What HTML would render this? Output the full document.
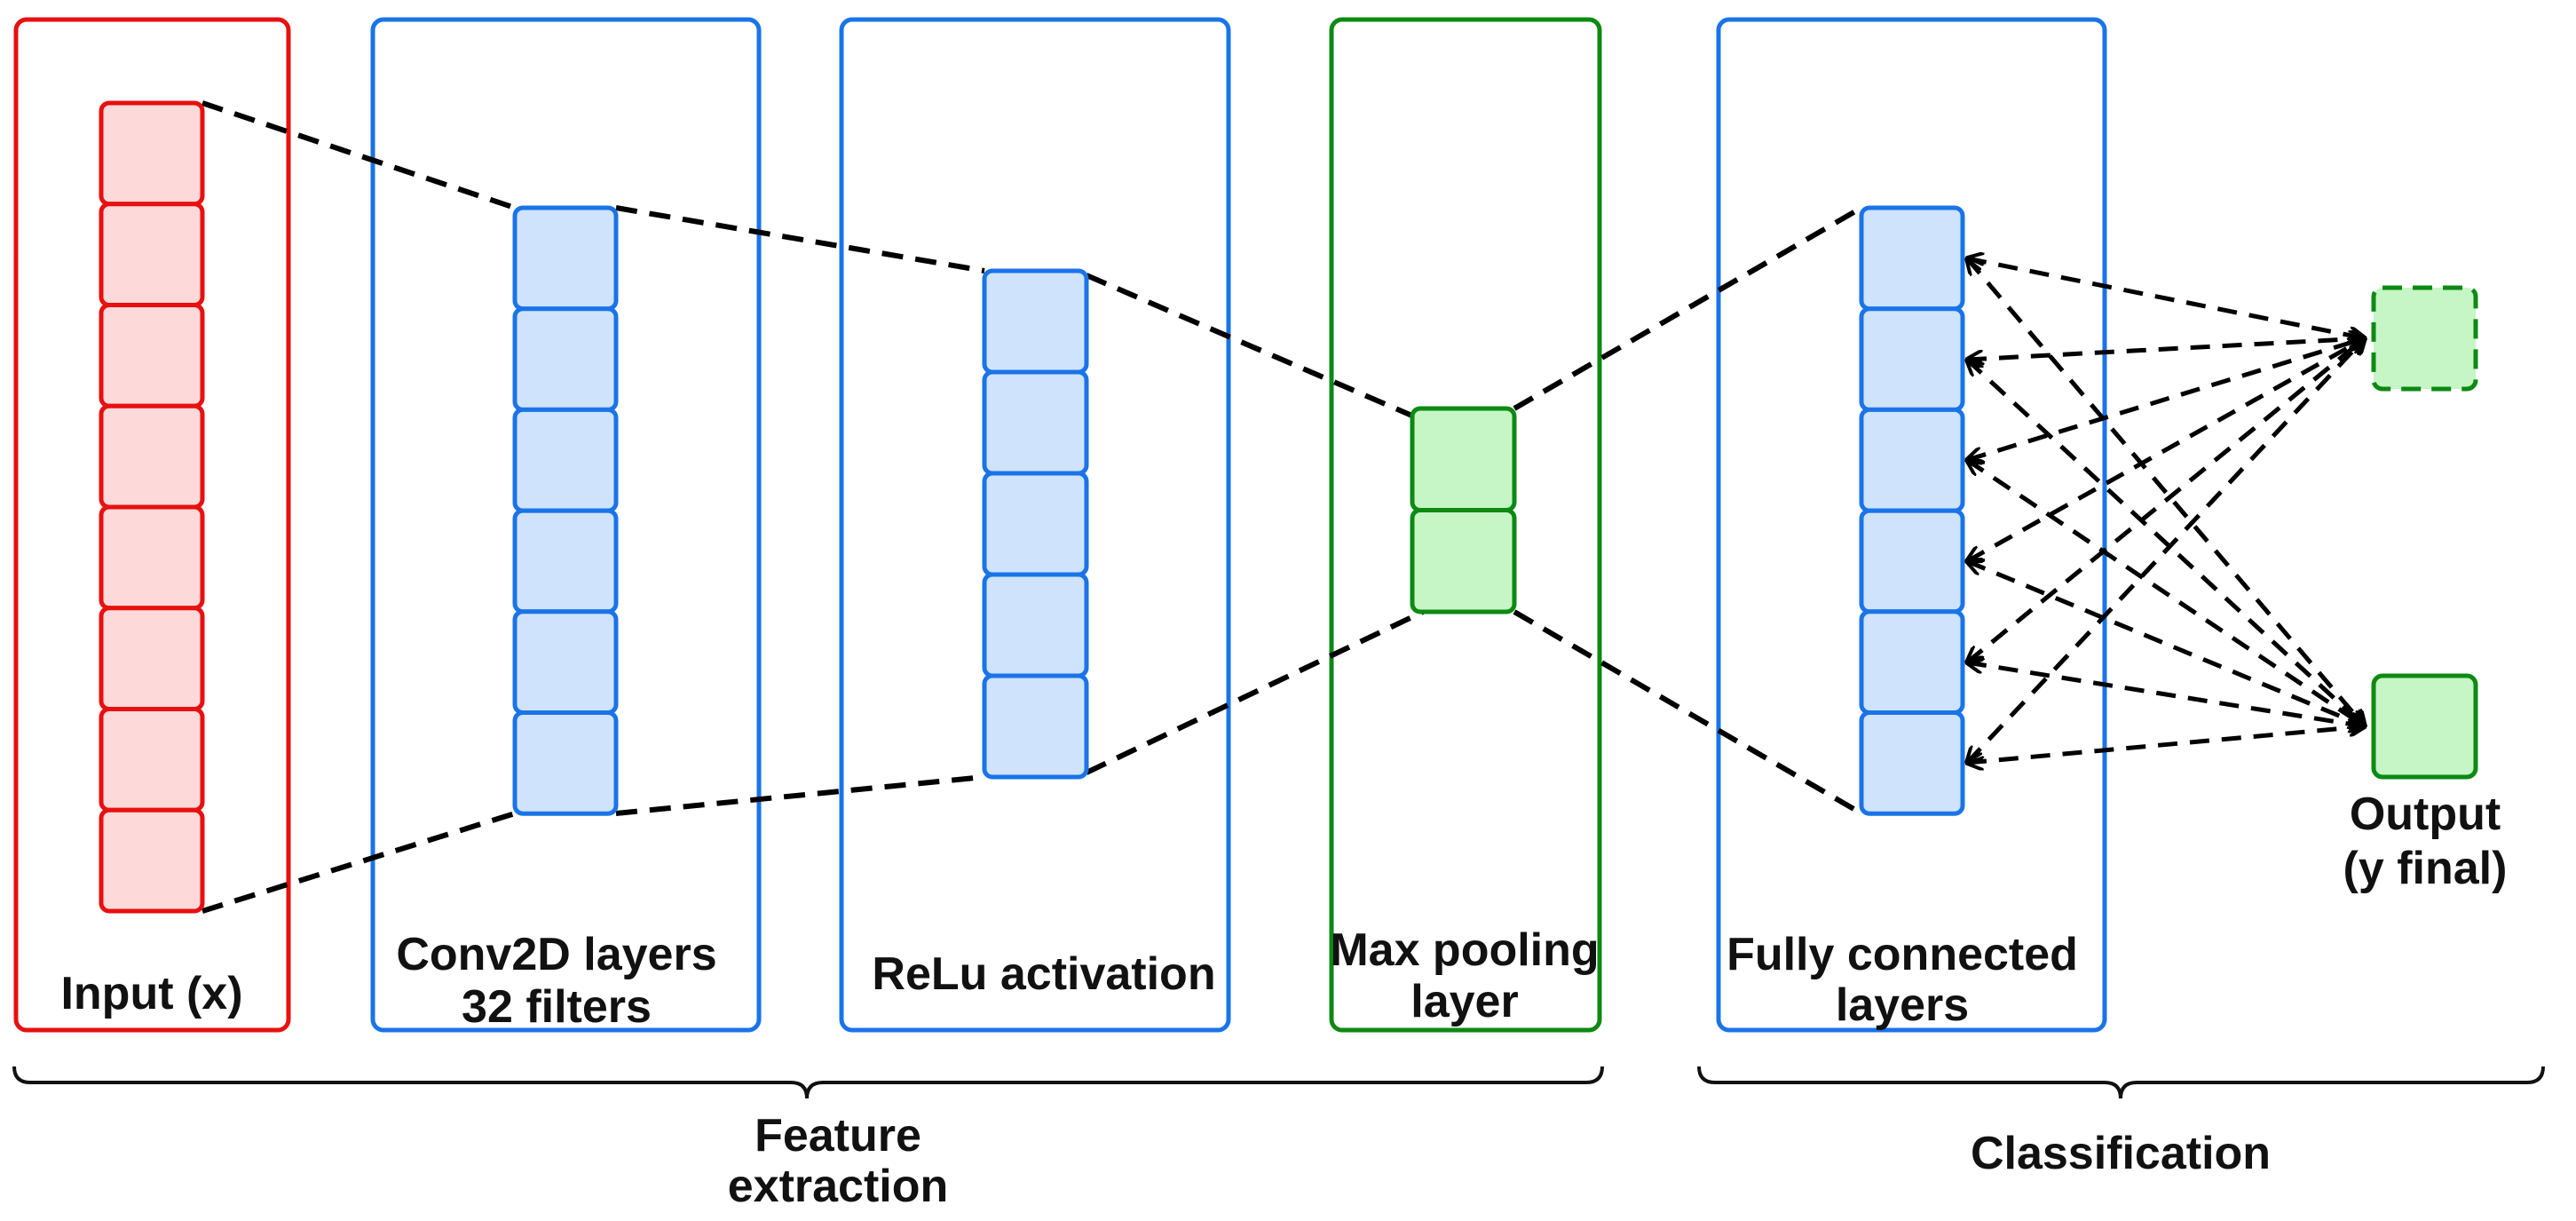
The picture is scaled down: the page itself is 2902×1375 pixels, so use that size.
<!DOCTYPE html>
<html><head><meta charset="utf-8"><style>
html,body{margin:0;padding:0;background:#fff}
svg{display:block}
text{font-family:"Liberation Sans",Arial,sans-serif;font-weight:bold;font-size:52px;fill:#111;text-anchor:middle}
</style></head><body>
<svg width="2902" height="1375" viewBox="0 0 2902 1375" xmlns="http://www.w3.org/2000/svg">
<defs>
<marker id="ah" viewBox="0 0 10 10" refX="9" refY="5" markerWidth="4" markerHeight="4" orient="auto-start-reverse">
<path d="M0,0 L10,5 L0,10" fill="none" stroke="#000" stroke-width="2"/>
</marker>
</defs>
<g fill="none" stroke-width="5">
<rect x="18" y="22" width="307" height="1138" rx="12" stroke="#e81010"/>
<rect x="420" y="22" width="435" height="1138" rx="12" stroke="#1a74e8"/>
<rect x="948" y="22" width="436" height="1138" rx="12" stroke="#1a74e8"/>
<rect x="1500" y="22" width="302" height="1138" rx="12" stroke="#0c8a12"/>
<rect x="1936" y="22" width="435" height="1138" rx="12" stroke="#1a74e8"/>
</g>
<g stroke="#000" stroke-width="6" stroke-dasharray="24 14" fill="none">
<line x1="228" y1="116" x2="580" y2="234"/>
<line x1="228" y1="1026" x2="580" y2="916"/>
<line x1="694" y1="234" x2="1109" y2="305"/>
<line x1="694" y1="916" x2="1109" y2="875"/>
<line x1="1224" y1="310" x2="1593" y2="469"/>
<line x1="1224" y1="870" x2="1603" y2="689"/>
<line x1="1706" y1="460" x2="2097" y2="234"/>
<line x1="1706" y1="689" x2="2097" y2="916"/>
</g>
<g stroke="#000" stroke-width="5" stroke-dasharray="22 14" fill="none" marker-start="url(#ah)" marker-end="url(#ah)">
<line x1="2216" y1="291" x2="2664" y2="381"/>
<line x1="2216" y1="405" x2="2664" y2="381"/>
<line x1="2216" y1="518" x2="2664" y2="381"/>
<line x1="2216" y1="632" x2="2664" y2="381"/>
<line x1="2216" y1="746" x2="2664" y2="381"/>
<line x1="2216" y1="859" x2="2664" y2="381"/>
<line x1="2216" y1="291" x2="2664" y2="818"/>
<line x1="2216" y1="405" x2="2664" y2="818"/>
<line x1="2216" y1="518" x2="2664" y2="818"/>
<line x1="2216" y1="632" x2="2664" y2="818"/>
<line x1="2216" y1="746" x2="2664" y2="818"/>
<line x1="2216" y1="859" x2="2664" y2="818"/>
</g>
<g stroke="#e81010" fill="#fdd9d9" stroke-width="5">
<rect x="114" y="116" width="114" height="113.75" rx="9"/>
<rect x="114" y="229.75" width="114" height="113.75" rx="9"/>
<rect x="114" y="343.5" width="114" height="113.75" rx="9"/>
<rect x="114" y="457.25" width="114" height="113.75" rx="9"/>
<rect x="114" y="571" width="114" height="113.75" rx="9"/>
<rect x="114" y="684.75" width="114" height="113.75" rx="9"/>
<rect x="114" y="798.5" width="114" height="113.75" rx="9"/>
<rect x="114" y="912.25" width="114" height="113.75" rx="9"/>
</g>
<g stroke="#1a74e8" fill="#cfe3fd" stroke-width="5">
<rect x="580" y="234" width="114" height="113.7" rx="9"/>
<rect x="580" y="347.7" width="114" height="113.7" rx="9"/>
<rect x="580" y="461.4" width="114" height="113.7" rx="9"/>
<rect x="580" y="575.1" width="114" height="113.7" rx="9"/>
<rect x="580" y="688.8" width="114" height="113.7" rx="9"/>
<rect x="580" y="802.5" width="114" height="113.7" rx="9"/>
<rect x="1109" y="305" width="115" height="114" rx="9"/>
<rect x="1109" y="419" width="115" height="114" rx="9"/>
<rect x="1109" y="533" width="115" height="114" rx="9"/>
<rect x="1109" y="647" width="115" height="114" rx="9"/>
<rect x="1109" y="761" width="115" height="114" rx="9"/>
<rect x="2097" y="234" width="114" height="113.7" rx="9"/>
<rect x="2097" y="347.7" width="114" height="113.7" rx="9"/>
<rect x="2097" y="461.4" width="114" height="113.7" rx="9"/>
<rect x="2097" y="575.1" width="114" height="113.7" rx="9"/>
<rect x="2097" y="688.8" width="114" height="113.7" rx="9"/>
<rect x="2097" y="802.5" width="114" height="113.7" rx="9"/>
</g>
<g stroke="#0c8a12" fill="#c6f5c6" stroke-width="5">
<rect x="1591" y="460" width="115" height="114.5" rx="9"/>
<rect x="1591" y="574.5" width="115" height="114.5" rx="9"/>
<rect x="2674" y="324" width="115" height="114" rx="10" stroke-dasharray="22 12"/>
<rect x="2674" y="761" width="115" height="114" rx="10"/>
</g>
<g stroke="#111" stroke-width="4" fill="none">
<path d="M16,1201 Q16,1219 34,1219 L891,1219 Q909,1219 909,1237 Q909,1219 927,1219 L1787,1219 Q1805,1219 1805,1201"/>
<path d="M1914,1201 Q1914,1219 1932,1219 L2371,1219 Q2389,1219 2389,1237 Q2389,1219 2407,1219 L2847,1219 Q2865,1219 2865,1201"/>
</g>
<text x="171" y="1136">Input (x)</text>
<text x="627" y="1092">Conv2D layers</text>
<text x="627" y="1151">32 filters</text>
<text x="1176" y="1114">ReLu activation</text>
<text x="1650" y="1087">Max pooling</text>
<text x="1650" y="1145">layer</text>
<text x="2143" y="1092">Fully connected</text>
<text x="2143" y="1149">layers</text>
<text x="2732" y="934">Output</text>
<text x="2732" y="995">(y final)</text>
<text x="944" y="1296">Feature</text>
<text x="944" y="1353">extraction</text>
<text x="2389" y="1316">Classification</text>
</svg>
</body></html>
